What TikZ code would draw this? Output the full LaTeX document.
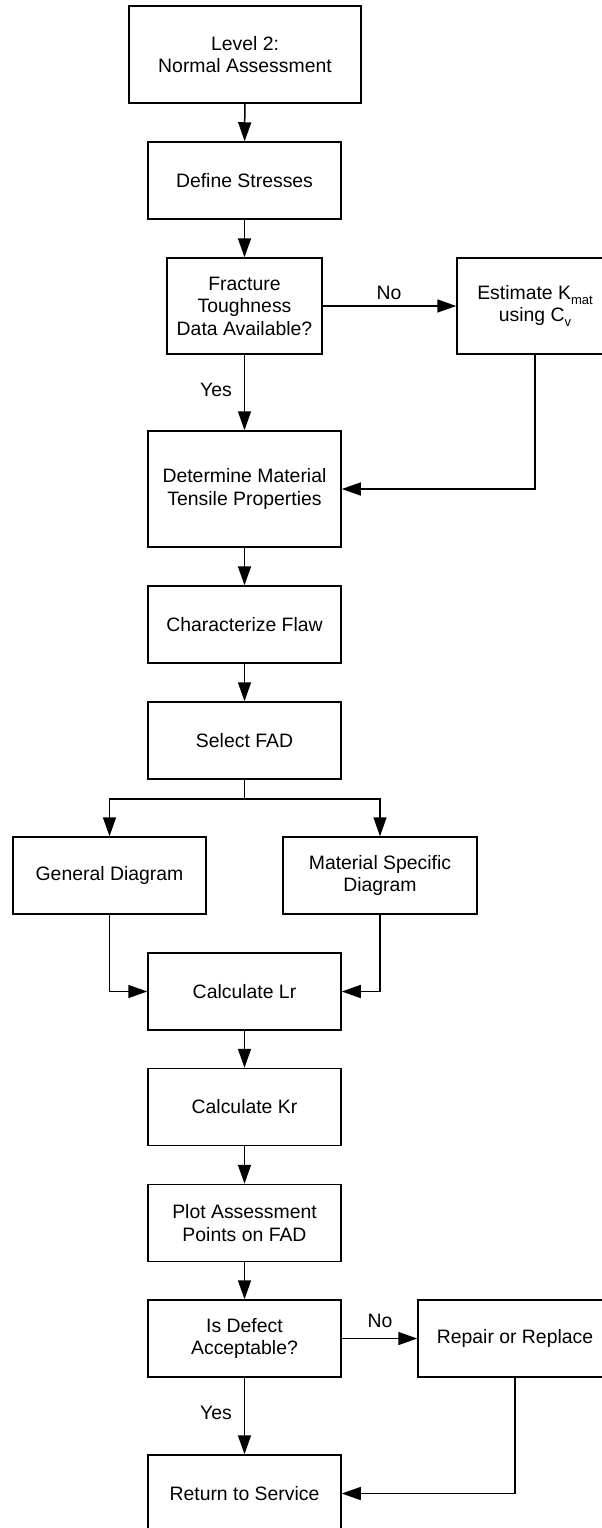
\documentclass[tikz,border=0pt]{standalone}
\usepackage{fontspec}
\setmainfont{Liberation Sans}
\usetikzlibrary{arrows.meta}
\newcommand{\lowsub}[1]{\raisebox{-5pt}{\fontsize{13}{13}\selectfont #1}}
\begin{document}
\begin{tikzpicture}[x=1pt,y=-1pt,
  every node/.style={font=\fontsize{19.4}{22.5}\selectfont},
  box/.style={draw,line width=1.5pt,inner sep=0pt,align=center,minimum width=193pt,minimum height=77pt},
  arr/.style={line width=1.5pt,-{Triangle[length=19pt,width=13pt]}},
  line/.style={line width=1.5pt},
  lbl/.style={inner sep=0pt}]
\clip (0,0) rectangle (602,1528);

% main column
\node[box,minimum width=232pt,minimum height=97pt] (lvl) at (245,54.5) {Level 2:\\Normal Assessment};
\node[box] (def) at (244.5,180.5) {Define Stresses};
\node[box,minimum width=155pt,minimum height=96pt] (frac) at (244.5,306) {Fracture\\Toughness\\Data Available?};
\node[box,minimum width=156pt,minimum height=96pt] (est) at (535,306) {Estimate K\lowsub{mat}\\using C\lowsub{v}};
\node[box,minimum height=116pt] (det) at (244.5,489) {Determine Material\\Tensile Properties};
\node[box] (char) at (244.5,624.5) {Characterize Flaw};
\node[box] (sel) at (244.5,740.5) {Select FAD};
\node[box] (gen) at (109.5,875.5) {General Diagram};
\node[box,minimum width=194pt] (mat) at (380,875.5) {Material Specific\\Diagram};
\node[box] (lr) at (244.5,991.5) {Calculate Lr};
\node[box] (kr) at (244.5,1107) {Calculate Kr};
\node[box] (plot) at (244.5,1223) {Plot Assessment\\Points on FAD};
\node[box] (acc) at (244.5,1338.5) {Is Defect\\Acceptable?};
\node[box,minimum width=194pt] (rep) at (515,1338.5) {Repair or Replace};
\node[box] (ret) at (244.5,1493.5) {Return to Service};

% labels
\node[lbl] (no1) at (389,293) {No};
\node[lbl] (yes1) at (216,390) {Yes};
\node[lbl] (no2) at (380,1321) {No};
\node[lbl] (yes2) at (216,1413) {Yes};

% connectors
\draw[arr] (lvl) -- (def);
\draw[arr] (def) -- (frac);
\draw[arr] (frac) -- (est);
\draw[arr] (frac) -- (det);
\draw[arr] (est.south) |- (det.east);
\draw[arr] (det) -- (char);
\draw[arr] (char) -- (sel);
\draw[line] (sel.south) -- ++(0,19) coordinate (split);
\draw[arr] (split) -| (gen.north);
\draw[arr] (split) -| (mat.north);
\draw[arr] (gen.south) |- (lr.west);
\draw[arr] (mat.south) |- (lr.east);
\draw[arr] (lr) -- (kr);
\draw[arr] (kr) -- (plot);
\draw[arr] (plot) -- (acc);
\draw[arr] (acc) -- (rep);
\draw[arr] (acc) -- (ret);
\draw[arr] (rep.south) |- (ret.east);
\end{tikzpicture}
\end{document}
